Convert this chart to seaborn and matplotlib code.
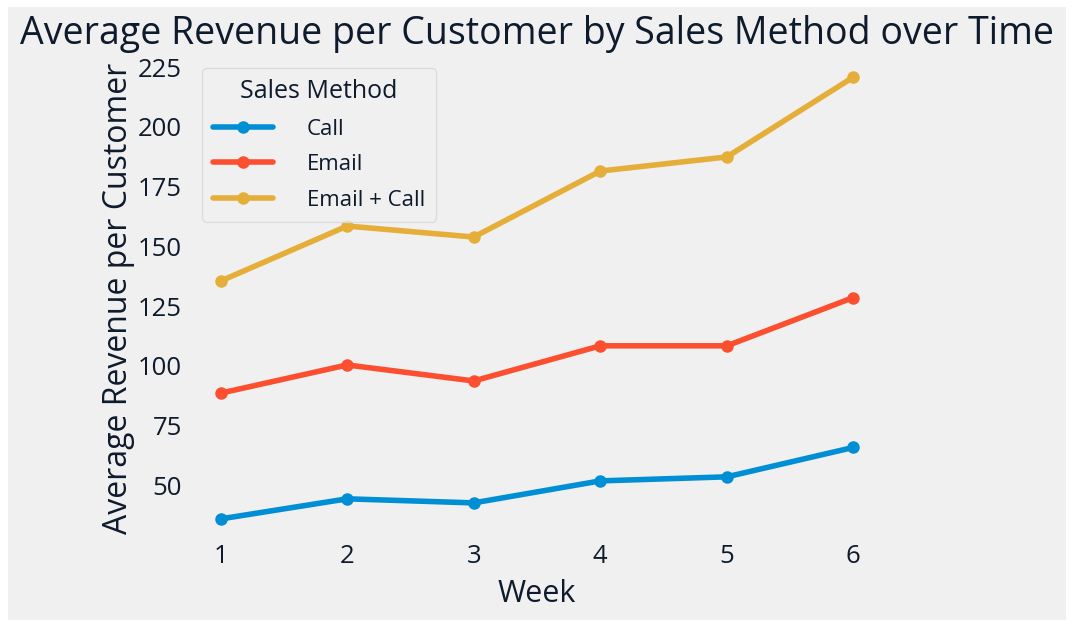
import matplotlib
matplotlib.use("Agg")
import matplotlib.pyplot as plt
import seaborn as sns
import pandas as pd
from matplotlib.patches import Rectangle

weeks = [1, 2, 3, 4, 5, 6]
methods = ["Call", "Email", "Email + Call"]
call_rev = [36.0, 44.4, 42.7, 51.9, 53.6, 65.9]
email_rev = [88.6, 100.4, 93.7, 108.4, 108.4, 128.6]
email_call_rev = [135.5, 158.5, 153.9, 181.5, 187.4, 220.8]

df = pd.DataFrame({
    "Week": weeks * 3,
    "Sales Method": [m for m in methods for _ in weeks],
    "Revenue": call_rev + email_rev + email_call_rev,
})

sns.set_theme(style="white")
plt.rcParams['font.family'] = ['Open Sans', 'DejaVu Sans']
text_color = "#0e1b2c"
bg = "#f0f0f0"
palette = {"Call": "#008fd5", "Email": "#fc4f30", "Email + Call": "#e5ae38"}

fig = plt.figure(figsize=(10.76, 6.27), dpi=100, facecolor="white")
fig.patches.append(Rectangle((8 / 1076, 1 - 620 / 627), (1066 - 8) / 1076, (620 - 7) / 627,
                             transform=fig.transFigure, facecolor=bg, edgecolor="none", zorder=-10))
ax = fig.add_axes([189 / 1076, 1 - 541 / 627, (885 - 189) / 1076, (541 - 55) / 627])
ax.set_facecolor(bg)

sns.lineplot(data=df, x="Week", y="Revenue", hue="Sales Method", palette=palette,
             marker="o", markersize=9, markeredgewidth=0, linewidth=4, ax=ax)

for s in ax.spines.values():
    s.set_visible(False)
ax.grid(False)
ax.set_xticks(weeks)
ax.set_yticks([50, 75, 100, 125, 150, 175, 200, 225])
ax.tick_params(axis="both", labelsize=18.5, colors=text_color, length=0)
ax.tick_params(axis="y", pad=5)
ax.tick_params(axis="x", pad=2)
ax.set_xlabel("Week", fontsize=22, color=text_color, labelpad=7)
ax.set_ylabel("Average Revenue per Customer", fontsize=23, color=text_color, labelpad=2)
fig.suptitle("Average Revenue per Customer by Sales Method over Time", fontsize=27,
             color=text_color, x=537 / 1076, y=1 - 15 / 627, va="top")

leg = ax.legend(title="Sales Method", loc="upper left", fontsize=16, title_fontsize=18,
                frameon=True, facecolor=bg, edgecolor="#d8d8d8", borderpad=0.5,
                borderaxespad=0, handlelength=2.7, handletextpad=1.5, labelspacing=0.65,
                bbox_to_anchor=(0.019, 0.973))
leg.get_frame().set_linewidth(1)
for t in leg.get_texts():
    t.set_color(text_color)
leg.get_title().set_color(text_color)

fig.savefig("out.png", dpi=100, facecolor="white")
